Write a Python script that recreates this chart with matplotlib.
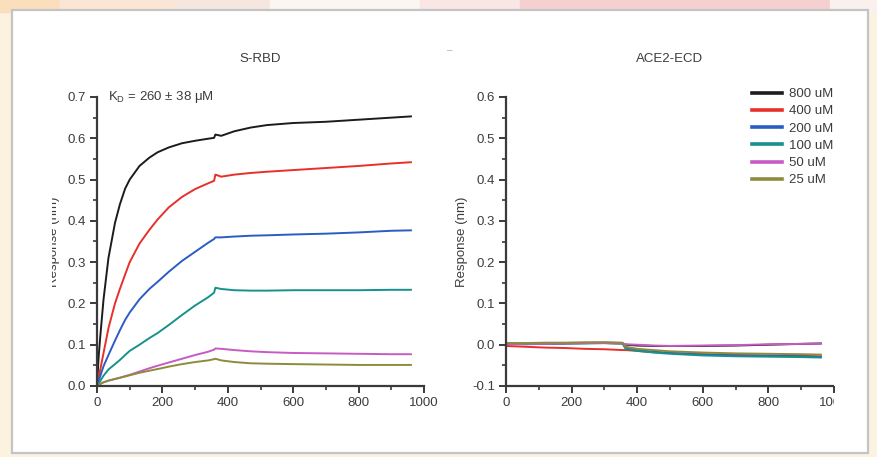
import matplotlib
matplotlib.use("Agg")
import matplotlib.pyplot as plt
from matplotlib.patches import Rectangle
from matplotlib.ticker import MultipleLocator
from matplotlib.transforms import Bbox, TransformedBbox

plt.rcParams['font.family'] = ['Liberation Sans', 'DejaVu Sans']
plt.rcParams['mathtext.fontset'] = 'custom'
plt.rcParams['mathtext.rm'] = 'Liberation Sans'
plt.rcParams['axes.unicode_minus'] = False

W, H = 877, 457

#### data
conc_labels = ['800 uM', '400 uM', '200 uM', '100 uM', '50 uM', '25 uM']
colors = ['#1c1c1c', '#e8302a', '#2b5cc4', '#17918c', '#c65bc4', '#8c8c3c']

# S-RBD, time (s)
t_rbd = [0, 5, 10, 20, 35, 55, 70, 86, 100, 130, 160, 185, 220, 260, 300, 340,
         358, 362, 380, 420, 470, 520, 600, 700, 800, 900, 960]
rbd_800 = [0, .07, .12, .21, .31, .395, .44, .478, .50, .533, .553, .566, .578, .588,
           .594, .599, .601, .609, .606, .617, .626, .632, .637, .640, .645, .650, .653]
rbd_400 = [0, .02, .04, .08, .14, .20, .235, .27, .30, .345, .378, .403, .433, .458,
           .477, .491, .497, .512, .507, .512, .516, .519, .523, .528, .533, .539, .542]
rbd_200 = [0, .012, .024, .048, .075, .11, .135, .16, .178, .21, .235, .252, .277, .303,
           .325, .347, .356, .360, .360, .362, .364, .365, .367, .369, .372, .376, .377]
rbd_100 = [0, .006, .012, .025, .04, .053, .063, .075, .085, .10, .116, .128, .148, .172,
           .195, .215, .226, .238, .235, .232, .231, .231, .232, .232, .232, .233, .233]
rbd_50 = [0, .003, .005, .009, .013, .017, .02, .024, .027, .035, .043, .049, .057, .066,
          .075, .083, .088, .091, .090, .087, .084, .082, .080, .079, .078, .077, .077]
rbd_25 = [0, .003, .005, .009, .013, .017, .02, .023, .026, .032, .037, .041, .047, .053,
          .058, .062, .065, .066, .062, .058, .055, .054, .053, .052, .051, .051, .051]

# ACE2-ECD
t_ace = [0, 60, 120, 180, 240, 300, 355, 365, 400, 450, 500, 600, 700, 800, 900, 960]
ace_800 = [.002, .003, .002, .003, .004, .004, .003, 0, -.002, -.003, -.003, -.003, -.002, 0, .002, .003]
ace_400 = [-.003, -.005, -.007, -.008, -.010, -.011, -.013, -.013, -.015, -.018, -.020, -.023,
           -.025, -.026, -.027, -.028]
ace_200 = [.003, .002, .003, .004, .004, .005, .004, -.008, -.013, -.017, -.020, -.024,
           -.026, -.027, -.028, -.030]
ace_100 = [.002, .001, .002, .003, .003, .004, .003, -.010, -.015, -.019, -.022, -.026,
           -.028, -.029, -.030, -.031]
ace_50 = [.001, .002, .002, .003, .004, .004, .003, .001, 0, -.002, -.003, -.002, -.001, .001, .002, .003]
ace_25 = [.004, .004, .005, .005, .006, .006, .005, -.005, -.010, -.013, -.016, -.019,
          -.021, -.022, -.023, -.024]

rbd_series = [rbd_800, rbd_400, rbd_200, rbd_100, rbd_50, rbd_25]
ace_series = [ace_800, ace_400, ace_200, ace_100, ace_50, ace_25]

fig = plt.figure(figsize=(W / 100, H / 100), dpi=100)

# slide background + white panel
fig.add_artist(Rectangle((0, 0), 1, 1, transform=fig.transFigure, color='#fcf2e0', zorder=-10))
top_strip = [(0, 60, '#fbdfbc'), (60, 175, '#fbe6d6'), (175, 270, '#f6e6e0'),
             (270, 420, '#fcf6f2'), (420, 520, '#fae6e4'), (520, 830, '#f6d0d0'),
             (830, 877, '#faf1ee')]
for x0, x1, c in top_strip:
    fig.add_artist(Rectangle((x0 / W, 1 - 12 / H), (x1 - x0) / W, 12 / H,
                             transform=fig.transFigure, color=c, zorder=-9))
fig.add_artist(Rectangle((12 / W, 4 / H), 856 / W, 443 / H, transform=fig.transFigure,
                         facecolor='white', edgecolor='#c4c4c4', lw=1.6, zorder=-8))
fig.text(450 / W, 1 - 50 / H, '–', color='#b0b0b0', fontsize=7, ha='center', va='center')

ax1 = fig.add_axes([97 / W, 71 / H, 327 / W, 289 / H])
ax2 = fig.add_axes([506 / W, 71 / H, 328 / W, 289 / H])

for t, series, ax in [(t_rbd, rbd_series, ax1), (t_ace, ace_series, ax2)]:
    for ys, c, lab in zip(series, colors, conc_labels):
        ax.plot(t, ys, color=c, lw=1.4, label=lab)

ax1.set_xlim(0, 1000)
ax1.set_ylim(0, 0.7)
ax2.set_xlim(0, 1000)
ax2.set_ylim(-0.1, 0.6)

for ax in (ax1, ax2):
    ax.patch.set_alpha(0)
    for s in ('top', 'right'):
        ax.spines[s].set_visible(False)
    for s in ('left', 'bottom'):
        ax.spines[s].set_linewidth(1.6)
        ax.spines[s].set_color('#3a3a3a')
    ax.xaxis.set_major_locator(MultipleLocator(200))
    ax.xaxis.set_minor_locator(MultipleLocator(100))
    ax.yaxis.set_major_locator(MultipleLocator(0.1))
    ax.yaxis.set_minor_locator(MultipleLocator(0.05))
    ax.yaxis.set_major_formatter('{x:.1f}')
    ax.tick_params(which='major', direction='out', length=5, width=1.4, color='#3a3a3a',
                   labelsize=9.5, labelcolor='#3c3c3c', pad=3)
    ax.tick_params(which='minor', direction='out', length=3, width=1.2, color='#3a3a3a')
    ax.set_ylabel('Response (nm)', fontsize=9.5, color='#3c3c3c')
    ax.yaxis.set_label_coords(-37.5 / 328, 0.5)

ax1.set_title('S-RBD', fontsize=9.5, color='#3c3c3c', pad=25)
ax2.set_title('ACE2-ECD', fontsize=9.5, color='#3c3c3c', pad=25)
ax1.text(34, 0.7, r'K$_\mathrm{D}$ = 260 ± 38 μM', fontsize=9.5, color='#3c3c3c',
         va='center', ha='left')

leg = ax2.legend(loc='upper left', bbox_to_anchor=(752 / W, 1 - 88 / H),
                 bbox_transform=fig.transFigure, frameon=False, fontsize=9.5,
                 handlelength=2.3, handletextpad=0.5, labelspacing=0.38,
                 borderpad=0, borderaxespad=0)
for h in leg.legend_handles:
    h.set_linewidth(2.6)
for txt in leg.get_texts():
    txt.set_color('#3c3c3c')

# the source picture was cropped: right tick label and left y label cut off
right_clip = TransformedBbox(Bbox.from_extents(0, 0, 834 / W, 1), fig.transFigure)
for lab in ax2.get_xticklabels():
    lab.set_clip_box(right_clip)
    lab.set_clip_on(True)
ax2.spines['bottom'].set_clip_box(right_clip)
ax2.spines['bottom'].set_clip_on(True)
left_clip = TransformedBbox(Bbox.from_extents(52 / W, 0, 1, 1), fig.transFigure)
ax1.yaxis.label.set_clip_box(left_clip)
ax1.yaxis.label.set_clip_on(True)

fig.savefig('out.png', dpi=100)
